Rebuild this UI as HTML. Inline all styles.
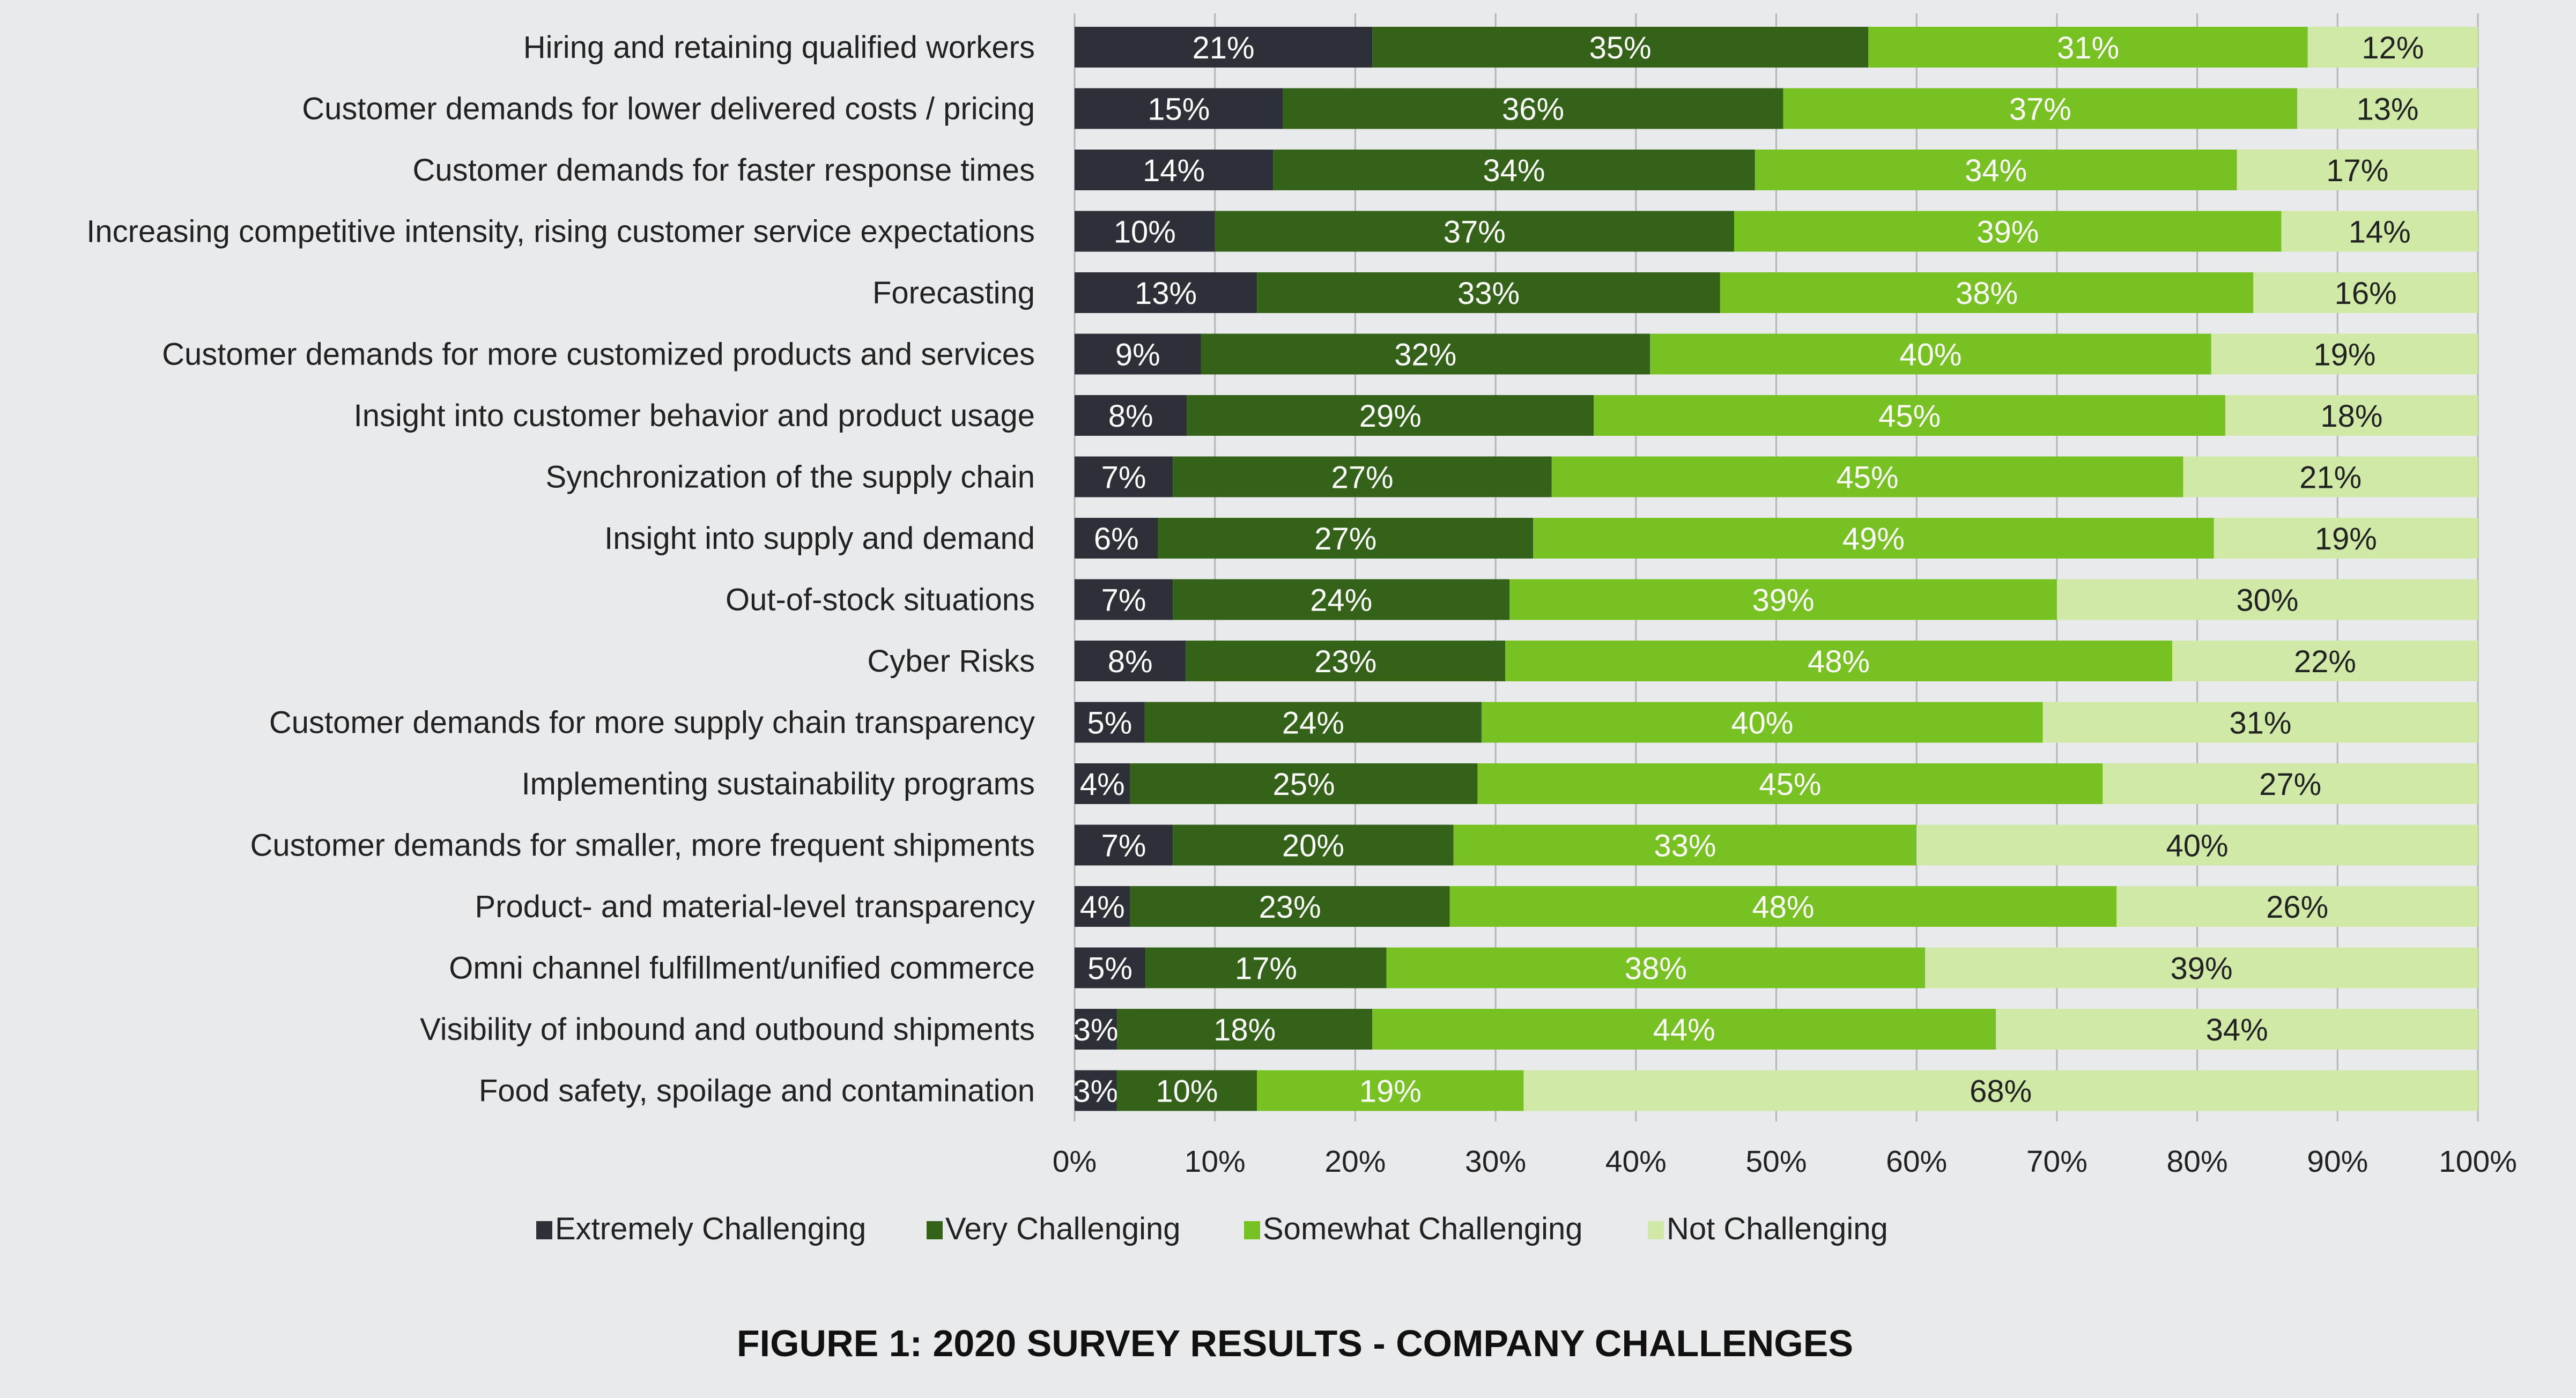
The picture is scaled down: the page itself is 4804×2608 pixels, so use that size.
<!DOCTYPE html>
<html><head><meta charset="utf-8"><style>
html,body{margin:0;padding:0;background:#e9eaec;}
svg{display:block;font-family:"Liberation Sans",sans-serif;}
</style></head><body>
<svg id="chart" width="4804" height="2608" viewBox="0 0 4804 2608" xmlns="http://www.w3.org/2000/svg">
<rect width="4804" height="2608" fill="#e9eaec"/>
<g id="grid"></g><g id="bars"></g><g id="labels"></g><g id="ticks"></g><g id="legend"></g>
<text x="2415" y="2530" text-anchor="middle" font-size="70" font-weight="bold" fill="#111">FIGURE 1: 2020 SURVEY RESULTS - COMPANY CHALLENGES</text>
</svg>
<script>
const categories = ["Hiring and retaining qualified workers","Customer demands for lower delivered costs / pricing","Customer demands for faster response times","Increasing competitive intensity, rising customer service expectations","Forecasting","Customer demands for more customized products and services","Insight into customer behavior and product usage","Synchronization of the supply chain","Insight into supply and demand","Out-of-stock situations","Cyber Risks","Customer demands for more supply chain transparency","Implementing sustainability programs","Customer demands for smaller, more frequent shipments","Product- and material-level transparency","Omni channel fulfillment/unified commerce","Visibility of inbound and outbound shipments","Food safety, spoilage and contamination"];
const extremely = [21,15,14,10,13,9,8,7,6,7,8,5,4,7,4,5,3,3];
const very = [35,36,34,37,33,32,29,27,27,24,23,24,25,20,23,17,18,10];
const somewhat = [31,37,34,39,38,40,45,45,49,39,48,40,45,33,48,38,44,19];
const notChallenging = [12,13,17,14,16,19,18,21,19,30,22,31,27,40,26,39,34,68];
const seriesNames = ["Extremely Challenging","Very Challenging","Somewhat Challenging","Not Challenging"];
const tickValues = [0,10,20,30,40,50,60,70,80,90,100];

const NS="http://www.w3.org/2000/svg";
const colors=["#2e3037","#346219","#77c123","#d0e9a6"];
const textColors=["#fff","#fff","#fff","#222"];
const x0=2004,x1=4621,yTop=88,rowStep=114.5,barH=76;
const xs=v=>x0+(x1-x0)*v/100;
const ys=i=>yTop+i*rowStep;
function mk(tag,attrs,parent,txt){const e=document.createElementNS(NS,tag);for(const k in attrs)e.setAttribute(k,attrs[k]);if(txt!==undefined)e.textContent=txt;parent.appendChild(e);return e;}
const grid=document.getElementById('grid'),bars=document.getElementById('bars'),labels=document.getElementById('labels'),ticks=document.getElementById('ticks'),legend=document.getElementById('legend');
tickValues.forEach(t=>{
  const l=mk('line',{x1:xs(t),x2:xs(t),y1:25,y2:2092,stroke:'#b5b6b8','stroke-width':3},grid);
  
  
  const tx=mk('text',{x:xs(t),y:2186,'text-anchor':'middle','font-size':57,fill:'#222'},ticks,t+'%');
  
  
});
const series=[extremely,very,somewhat,notChallenging];
categories.forEach((c,i)=>{
  const cy=ys(i);
  const lt=mk('text',{x:1930,y:cy+20,'text-anchor':'end','font-size':58,fill:'#222'},labels,c);
  
  
  const total=series.reduce((s,a)=>s+a[i],0);
  let acc=0;
  series.forEach((arr,k)=>{
    const v=arr[i]/total*100;
    const r=mk('rect',{x:xs(acc),y:cy-barH/2,width:xs(acc+v)-xs(acc),height:barH,fill:colors[k]},bars);
    
    
    const t=mk('text',{x:(xs(acc)+xs(acc+v))/2,y:cy+21,'text-anchor':'middle','font-size':58,fill:textColors[k]},bars,arr[i]+'%');
    
    
    acc+=v;
  });
});
const legX=[1000,1728,2320,3073];
seriesNames.forEach((n,k)=>{
  const r=mk('rect',{x:legX[k],y:2278,width:30,height:34,fill:colors[k]},legend);
  
  
  const t=mk('text',{x:legX[k]+35,y:2312,'font-size':58,fill:'#222'},legend,n);
  
  
});
</script>
</body></html>
